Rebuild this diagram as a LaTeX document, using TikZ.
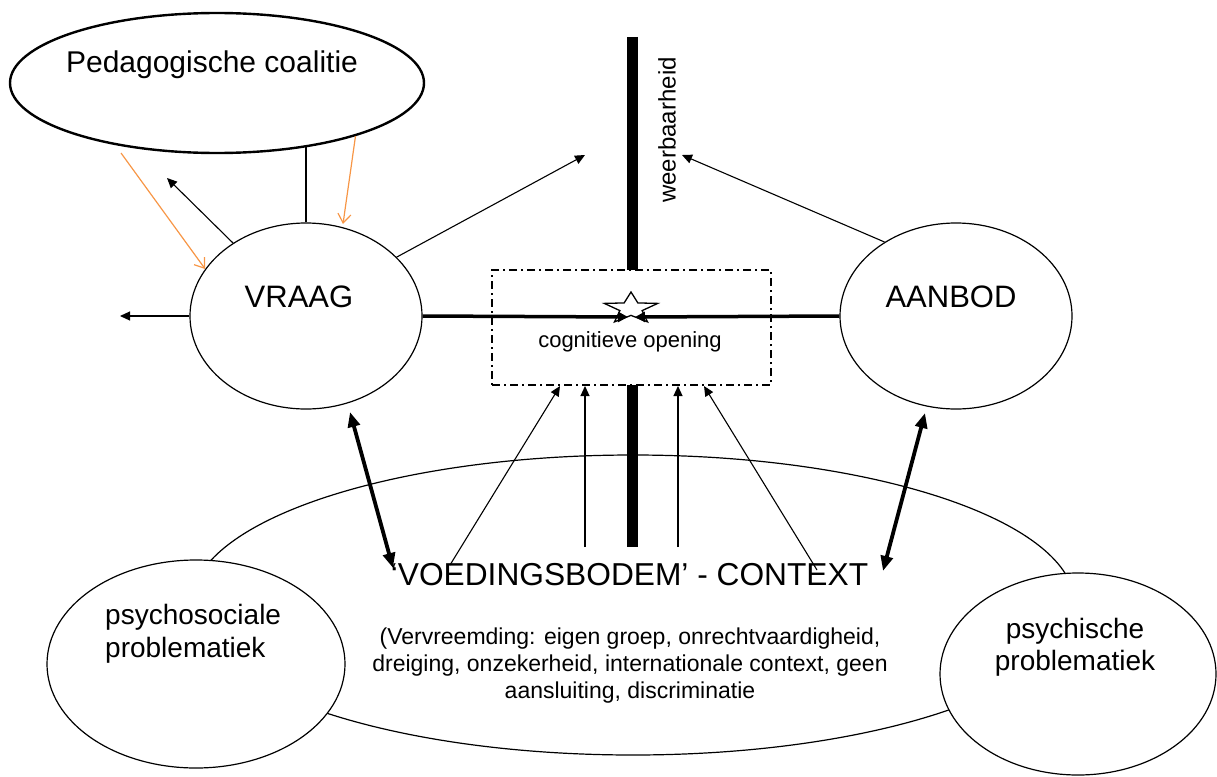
\documentclass[tikz,border=0pt]{standalone}
\usepackage{fontspec}
\setmainfont{Liberation Sans}
\usetikzlibrary{shapes.geometric,arrows.meta}
\definecolor{coalorange}{RGB}{247,150,70}
\tikzset{
  oval/.style={ellipse, draw, line width=1.2pt, fill=white, inner sep=0pt},
  lbl/.style={inner sep=0pt, anchor=base},
  thinarrow/.style={line width=1.1pt, -{Triangle[length=10pt,width=9pt]}},
  orangearrow/.style={draw=coalorange, line width=1.2pt, -{Straight Barb[length=9pt,width=13pt]}},
  bigarrow/.style={line width=3.8pt, {Triangle[length=15pt,width=12pt]}-{Triangle[length=15pt,width=12pt]}},
  openbox/.style={draw, fill=white, line width=1.3pt, dash pattern=on 8pt off 4pt on 2pt off 4pt, inner sep=0pt},
}
\begin{document}
\begin{tikzpicture}[x=1pt,y=-1pt]
\useasboundingbox (0,0) rectangle (1217,776);

% the breeding ground: large ellipse at the bottom
\node[oval, fill=none, minimum width=884pt, minimum height=300pt] (ctx) at (633,605) {};

% resilience bar
\coordinate (bartop) at (632,37);
\coordinate (barbot) at (632,547);
\draw[line width=11pt] (bartop) -- (barbot);

% cognitive opening window
\node[openbox, minimum width=279pt, minimum height=115pt] (box) at (631.5,327.5) {};

% main ellipses
\node[oval, line width=2.4pt, minimum width=414pt, minimum height=140pt] (coal) at (217,83) {};
\node[oval, minimum width=232pt, minimum height=186pt] (vraag) at (306,316) {};
\node[oval, minimum width=232pt, minimum height=186pt] (aanbod) at (956,316) {};

% star with the two incoming thick arrows
\begin{scope}[shift={(631,308.5)}, xscale=1.7]
  \node[star, star points=5, star point ratio=2.4, draw, line width=1.3pt, fill=white,
        minimum size=33pt, inner sep=0pt, transform shape] (star) at (0,0) {};
\end{scope}
\coordinate (hl) at (628,317);
\coordinate (hr) at (635,317);
\draw[line width=3.5pt, -{Triangle[length=10pt,width=10pt]}] (vraag.east) -- (hl);
\draw[line width=3.5pt, -{Triangle[length=10pt,width=10pt]}] (aanbod.west) -- (hr);

% labels
\node[lbl, font=\fontsize{30}{36}\selectfont] (coaltxt) at (212,72) {Pedagogische coalitie};
\node[lbl, font=\fontsize{31}{37}\selectfont] (vraagtxt) at (299,307) {VRAAG};
\node[lbl, font=\fontsize{31}{37}\selectfont] (aanbodtxt) at (951,307) {AANBOD};
\node[inner sep=0pt, rotate=90, font=\fontsize{24}{28}\selectfont] (weer) at (667,130) {weerbaarheid};
\node[lbl, font=\fontsize{22}{26}\selectfont] (cogtxt) at (630,347) {cognitieve opening};

% connectors around VRAAG
\coordinate (vl) at (120,316);
\coordinate (vul) at (167,178);
\coordinate (vur) at (585,155);
\draw[thinarrow] (vraag.west) -- (vl);
\draw[thinarrow] (vraag.135) -- (vul);
\draw[thinarrow] (vraag.33) -- (vur);
\draw[line width=1.1pt] (vraag.north) -- (vraag.north |- coal.-35.3);

% orange arrows from the coalition
\coordinate (o1) at (121,153);
\coordinate (o2) at (343,224);
\draw[orangearrow] (o1) -- (vraag.155);
\draw[orangearrow] (coal.-21.6) -- (o2);

% AANBOD towards resilience
\coordinate (aw) at (682,155);
\draw[thinarrow] (aanbod.134.2) -- (aw);

% arrows from the breeding ground into the window
\coordinate (s1) at (450,565);
\coordinate (s2) at (585,547);
\coordinate (s3) at (678,547);
\coordinate (s4) at (817,570);
\coordinate (t1) at (560,386);
\coordinate (t2) at (585,386);
\coordinate (t3) at (678,386);
\coordinate (t4) at (704,386);
\draw[thinarrow] (s1) -- (t1);
\draw[thinarrow] (s2) -- (t2);
\draw[thinarrow] (s3) -- (t3);
\draw[thinarrow] (s4) -- (t4);

% context title sits under the arrows
\node[lbl, font=\fontsize{31.7}{38}\selectfont] (ctxtitle) at (629.5,585) {‘VOEDINGSBODEM’ - CONTEXT};

% thick double arrows
\coordinate (la) at (350,412);
\coordinate (lb) at (393,568);
\coordinate (ra) at (925,413);
\coordinate (rb) at (883,571);
\draw[bigarrow] (la) -- (lb);
\draw[bigarrow] (ra) -- (rb);

% context description (multi-line nodes sit on the baseline of their last line)
\node[lbl, align=center, font=\fontsize{23}{27}\selectfont] (ctxtxt) at (630,698)
  {(Vervreemding: eigen groep, onrechtvaardigheid,\\dreiging, onzekerheid, internationale context, geen\\aansluiting, discriminatie};

% problem ellipses
\node[oval, minimum width=298pt, minimum height=208pt] (psoc) at (196,664) {};
\node[oval, minimum width=276pt, minimum height=202pt] (psy) at (1078,674) {};
\node[inner sep=0pt, anchor=base west, align=left, font=\fontsize{28}{33}\selectfont] (psoctxt) at (105,657)
  {psychosociale\\problematiek};
\node[lbl, align=center, font=\fontsize{28}{32}\selectfont] (psytxt) at (1075,670)
  {psychische\\problematiek};
\end{tikzpicture}
\end{document}
